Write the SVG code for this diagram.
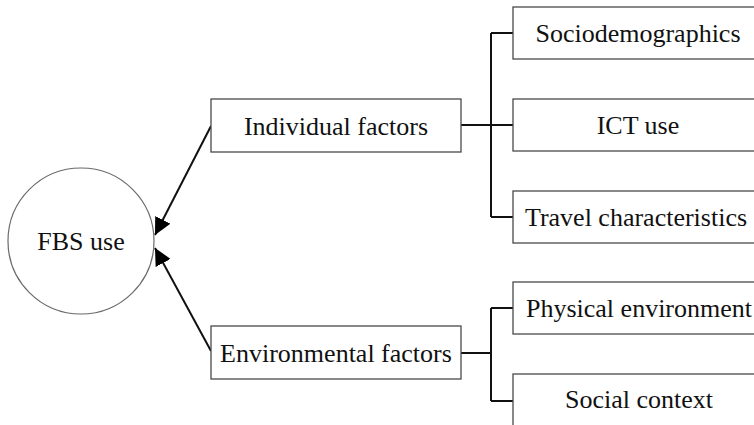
<svg xmlns="http://www.w3.org/2000/svg" width="754" height="425" viewBox="0 0 754 425">
<style>
.box{fill:#fff;stroke:#4a4a4a;stroke-width:1.3}
.circ{fill:#fff;stroke:#6a6a6a;stroke-width:1.2}
.lbl{font-family:"Liberation Serif","Times New Roman",serif;font-size:26px;fill:#111;text-anchor:middle}
.conn{fill:none;stroke:#111;stroke-width:2}
</style>
<defs>
<marker id="ah" markerUnits="userSpaceOnUse" markerWidth="20" markerHeight="18" refX="17" refY="8.5" orient="auto">
<path d="M0,0 L17,8.5 L0,17 z" fill="#000"/>
</marker>
</defs>
<rect width="754" height="425" fill="#fff"/>
<g id="connectors">
<line class="conn" x1="211" y1="126" x2="155" y2="235" marker-end="url(#ah)"/>
<line class="conn" x1="211" y1="351" x2="155" y2="248" marker-end="url(#ah)"/>
<path class="conn" d="M461,125 H513 M491,33 V217 M491,33 H513 M491,217 H513"/>
<path class="conn" d="M461,353 H491 M491,308 V401 M491,308 H513 M491,401 H513"/>
</g>
<g id="fbs"><circle class="circ" cx="81" cy="241" r="73"/><text class="lbl" x="81" y="250">FBS use</text></g>
<g id="individual"><rect class="box" x="211" y="99" width="250" height="53"/><text class="lbl" x="336" y="135">Individual factors</text></g>
<g id="environmental"><rect class="box" x="211" y="326" width="250" height="53"/><text class="lbl" x="336" y="362">Environmental factors</text></g>
<g id="socio"><rect class="box" x="513" y="7" width="252" height="52"/><text class="lbl" x="638" y="42">Sociodemographics</text></g>
<g id="ict"><rect class="box" x="513" y="99" width="252" height="52"/><text class="lbl" x="638" y="134">ICT use</text></g>
<g id="travel"><rect class="box" x="513" y="191" width="252" height="52"/><text class="lbl" x="636" y="226">Travel characteristics</text></g>
<g id="physical"><rect class="box" x="513" y="282" width="252" height="52"/><text class="lbl" x="639" y="317">Physical environment</text></g>
<g id="social"><rect class="box" x="513" y="374" width="252" height="60"/><text class="lbl" x="639" y="408">Social context</text></g>
</svg>
